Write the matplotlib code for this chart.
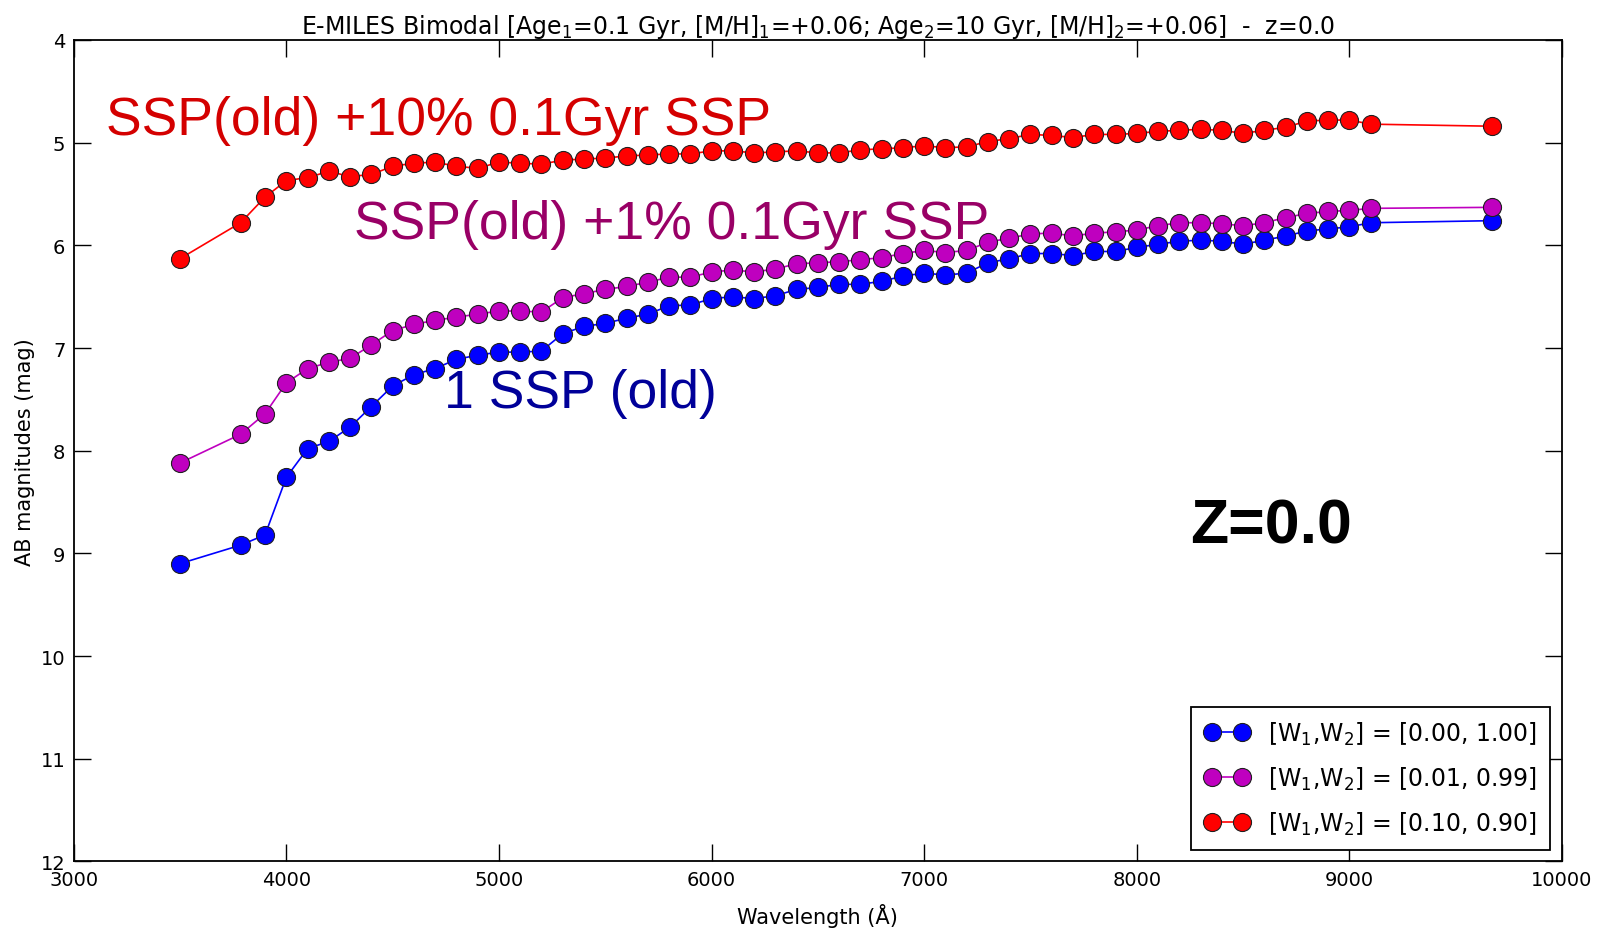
import numpy as np
import matplotlib
matplotlib.use("Agg")
import matplotlib.pyplot as plt

# wavelengths of the photometric points (Angstrom)
wave = [3500, 3785, 3900] + list(range(4000, 9200, 100)) + [9670]

# AB magnitudes, old SSP only
mag_old = [9.10, 8.92, 8.82, 8.26, 7.98, 7.91, 7.77, 7.57, 7.37, 7.26,
           7.20, 7.11, 7.07, 7.04, 7.04, 7.03, 6.86, 6.79, 6.76, 6.71,
           6.67, 6.59, 6.58, 6.52, 6.50, 6.52, 6.49, 6.43, 6.41, 6.38,
           6.38, 6.35, 6.30, 6.27, 6.29, 6.27, 6.17, 6.13, 6.08, 6.08,
           6.10, 6.06, 6.06, 6.02, 5.99, 5.96, 5.95, 5.96, 5.99, 5.95,
           5.91, 5.86, 5.84, 5.82, 5.78, 5.76]
# old SSP + 1% young
mag_1pc = [8.12, 7.84, 7.64, 7.34, 7.20, 7.14, 7.10, 6.97, 6.83, 6.77,
           6.73, 6.70, 6.67, 6.64, 6.64, 6.65, 6.51, 6.47, 6.43, 6.40,
           6.36, 6.31, 6.31, 6.26, 6.24, 6.26, 6.23, 6.18, 6.17, 6.16,
           6.14, 6.12, 6.08, 6.05, 6.07, 6.05, 5.97, 5.93, 5.89, 5.88,
           5.91, 5.88, 5.87, 5.85, 5.81, 5.78, 5.78, 5.79, 5.81, 5.78,
           5.73, 5.69, 5.67, 5.66, 5.64, 5.63]
# old SSP + 10% young
mag_10pc = [6.13, 5.78, 5.53, 5.37, 5.34, 5.28, 5.33, 5.31, 5.23, 5.20,
            5.19, 5.23, 5.25, 5.19, 5.20, 5.21, 5.17, 5.16, 5.15, 5.13,
            5.12, 5.11, 5.11, 5.08, 5.08, 5.10, 5.09, 5.08, 5.10, 5.10,
            5.07, 5.06, 5.05, 5.03, 5.05, 5.04, 4.99, 4.96, 4.92, 4.93,
            4.95, 4.92, 4.92, 4.91, 4.89, 4.88, 4.87, 4.88, 4.91, 4.88,
            4.85, 4.79, 4.78, 4.78, 4.82, 4.84]

labels = [r'[W$_1$,W$_2$] = [0.00, 1.00]',
          r'[W$_1$,W$_2$] = [0.01, 0.99]',
          r'[W$_1$,W$_2$] = [0.10, 0.90]']

plt.rcParams['font.family'] = 'DejaVu Sans'
plt.rcParams['mathtext.fontset'] = 'dejavusans'

fig = plt.figure(figsize=(16.06, 9.29), dpi=100)
ax = fig.add_axes([0.0459, 0.0717, 0.9267, 0.8842])

for y, c, lab in zip([mag_old, mag_1pc, mag_10pc], ['b', 'm', 'r'], labels):
    ax.plot(wave, y, '-o', color=c, mfc=c, mec='#202020', mew=0.8,
            ms=13, lw=1.2, label=lab)

ax.set_xlim(3000, 10000)
ax.set_ylim(12, 4)
ax.set_yticks(range(4, 13))
ax.tick_params(direction='in', top=True, right=True, length=12, width=1,
               labelsize=14, pad=6)
for s in ax.spines.values():
    s.set_linewidth(1.3)

ax.set_xlabel('Wavelength (Å)', fontsize=15, labelpad=10)
ax.set_ylabel('AB magnitudes (mag)', fontsize=15)
ax.set_title(r'E-MILES Bimodal [Age$_1$=0.1 Gyr, [M/H]$_1$=+0.06; '
             r'Age$_2$=10 Gyr, [M/H]$_2$=+0.06]  -  z=0.0', fontsize=17,
             pad=5)

leg = ax.legend(loc='lower right', numpoints=2, fontsize=17, fancybox=False,
                borderpad=0.55, labelspacing=0.75, handlelength=1.9,
                handletextpad=0.8, borderaxespad=0.5)
leg.get_frame().set_edgecolor('black')
leg.get_frame().set_linewidth(1.3)
leg.get_frame().set_alpha(1)

big = 'Liberation Sans'
ax.text(3150, 4.92, 'SSP(old) +10% 0.1Gyr SSP', color='#d40000',
        fontsize=38.5, family=big)
ax.text(4320, 5.93, 'SSP(old) +1% 0.1Gyr SSP', color='#990066',
        fontsize=38.5, family=big)
ax.text(4740, 7.57, '1 SSP (old)', color='#000099',
        fontsize=38.5, family=big)
ax.text(8250, 8.89, 'Z=0.0', color='black', fontsize=45,
        fontweight='bold', family=big)

fig.savefig('out.png', dpi=100)
